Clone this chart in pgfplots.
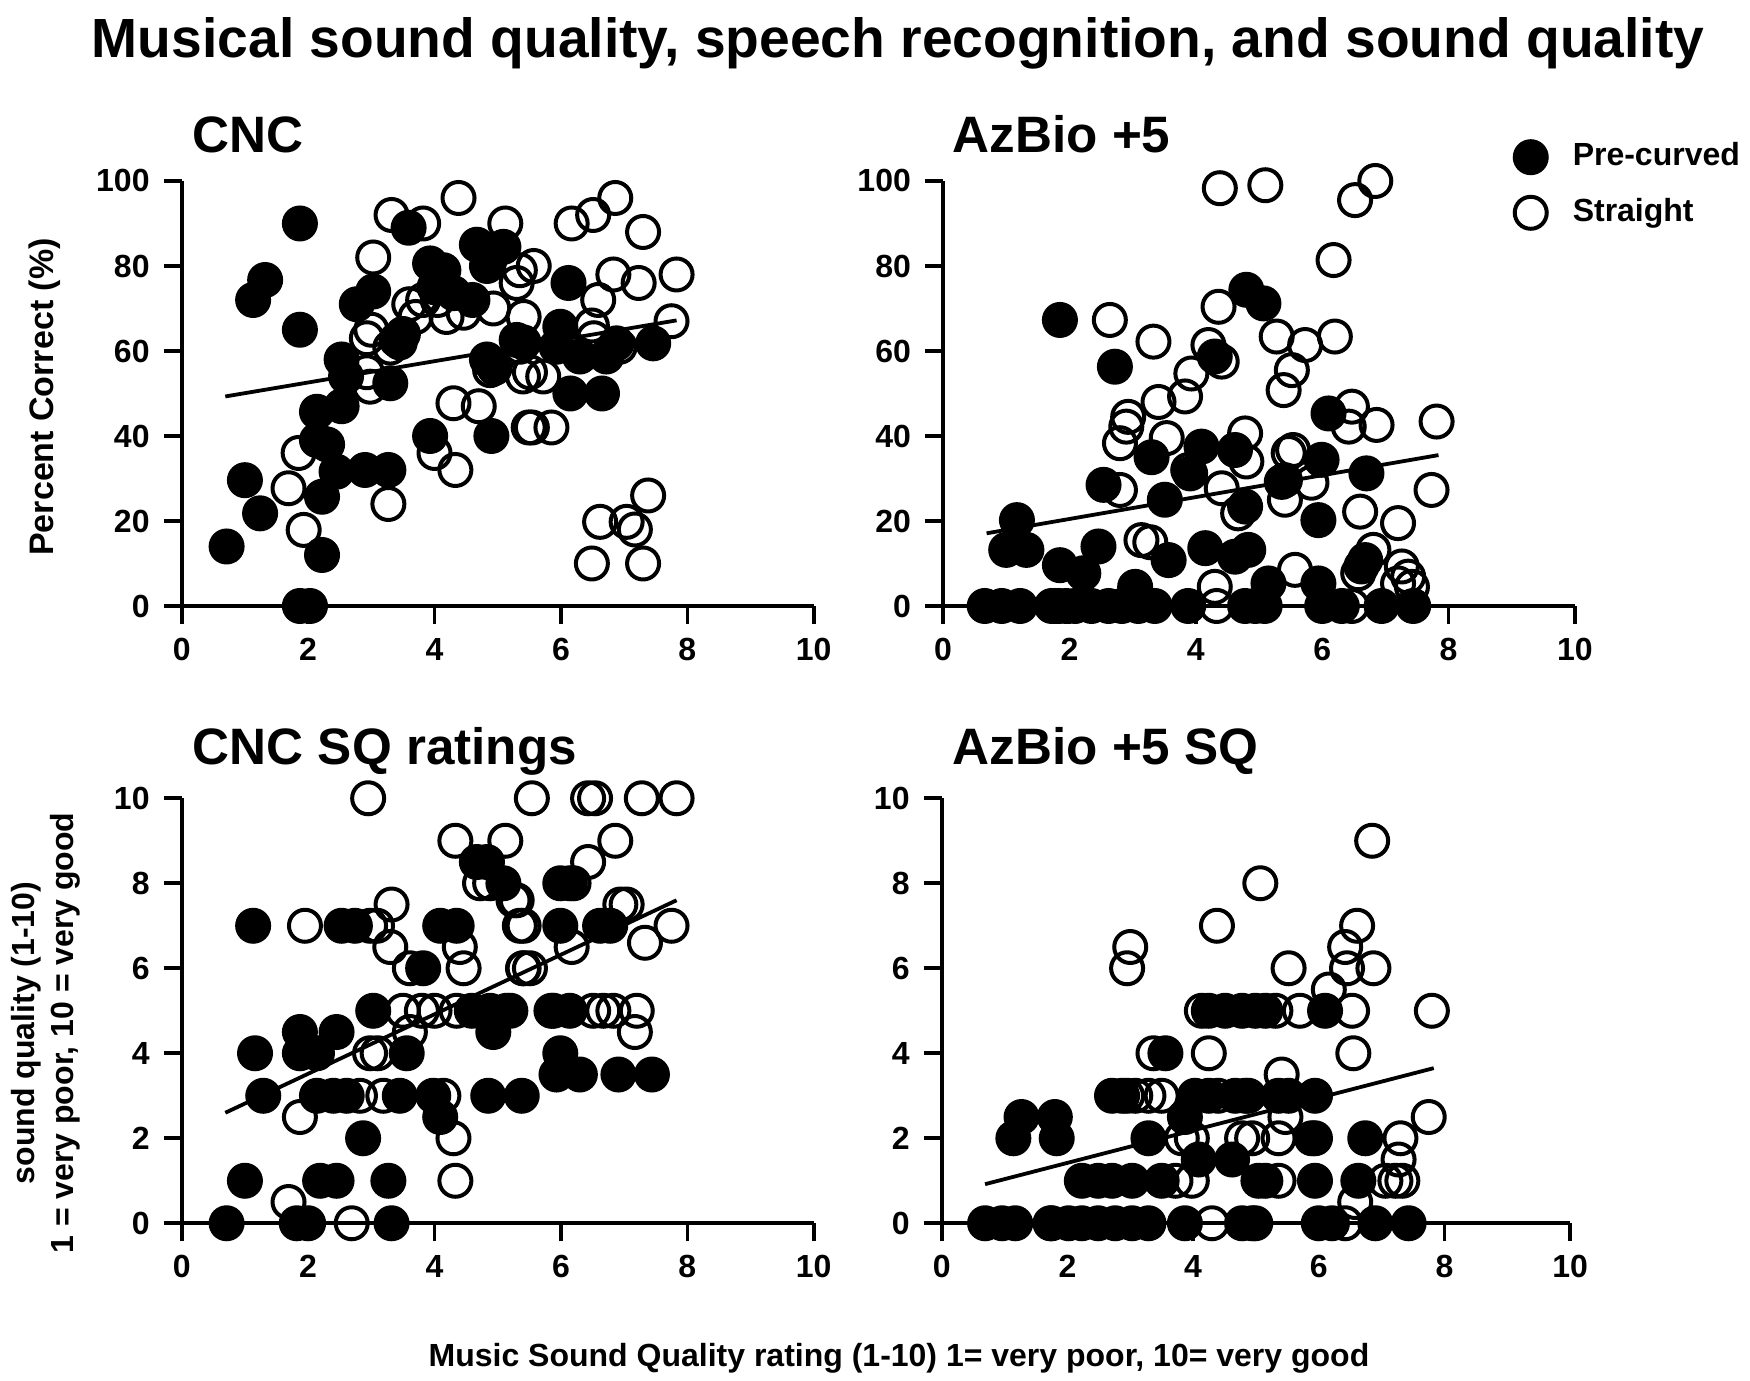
\documentclass[border=0pt]{standalone}
\usepackage{fontspec}
\setmainfont{Liberation Sans}
\usepackage{pgfplots}
\pgfplotsset{compat=1.18}
\pgfplotsset{
  myaxis/.style={
    anchor=south west,
    xmin=0, xmax=10, ymin=0,
    enlargelimits=false,
    axis lines=left,
    axis line style={-, line width=0.9pt},
    tick align=outside,
    major tick length=4.5pt,
    every tick/.style={black, line width=0.9pt},
    xtick={0,2,...,10},
    ticklabel style={font=\bfseries\fontsize{8}{9}\selectfont},
    /pgf/number format/assume math mode=true,
    clip=false,
  },
  filled/.style={only marks, mark=*, mark size=4pt, mark options={draw=black, fill=black, line width=1pt}},
  hollow/.style={only marks, mark=o, mark size=4pt, mark options={draw=black, line width=1pt}},
  fitline/.style={black, line width=0.95pt, no markers, forget plot},
}
\begin{document}
\begin{tikzpicture}
\useasboundingbox (0pt,0pt) rectangle (437.5pt,345.25pt);
\node[anchor=base, inner sep=0pt, font=\bfseries\fontsize{13.8}{16}\selectfont] at (224.5pt,330.75pt) {Musical sound quality, speech recognition, and sound quality};
\node[anchor=base west, inner sep=0pt, font=\bfseries\fontsize{12.8}{15}\selectfont] at (48pt,307pt) {CNC};
\node[anchor=base west, inner sep=0pt, font=\bfseries\fontsize{12.8}{15}\selectfont] at (238pt,307pt) {AzBio +5};
\node[anchor=base west, inner sep=0pt, font=\bfseries\fontsize{12.8}{15}\selectfont] at (48pt,154pt) {CNC SQ ratings};
\node[anchor=base west, inner sep=0pt, font=\bfseries\fontsize{12.8}{15}\selectfont] at (238pt,154pt) {AzBio +5 SQ};
\node[rotate=90, inner sep=0pt, font=\bfseries\fontsize{8.5}{9}\selectfont] at (11.25pt,246pt) {Percent Correct (\%)};
\node[rotate=90, inner sep=0pt, align=center, font=\bfseries\fontsize{8}{9.6}\selectfont] at (11.4pt,87pt) {sound quality (1-10)\\1 = very poor, 10 = very good};
\node[anchor=base, inner sep=0pt, font=\bfseries\fontsize{8}{9}\selectfont] at (224.75pt,3.5pt) {Music Sound Quality rating (1-10) 1= very poor, 10= very good};

% ---------------- CNC ----------------
\begin{axis}[myaxis, at={(45.43pt,193.75pt)}, x=15.8pt, y=1.0625pt, ymax=100, ytick={0,20,...,100}]
\addplot[filled] coordinates {
(1.87,90) (1.32,76.7) (1.13,72) (1.87,65) (0.71,14) (1.0,29.6) (1.24,21.8) (2.22,12)
(1.87,0) (2.03,0) (2.22,25.7) (2.14,45.7) (2.3,38) (2.14,39) (2.53,47) (2.53,58)
(2.45,31.6) (2.9,32) (3.27,32) (3.3,52.4) (2.77,71) (3.03,74) (3.5,64) (3.59,89)
(3.93,80.6) (4.14,79) (4.0,75) (4.3,73.6) (4.6,72) (4.67,85) (4.88,83) (5.09,84.5)
(4.83,80) (3.93,40) (4.9,40) (4.83,58) (5.3,62.6) (6.12,76) (5.99,65.7) (5.93,61)
(5.41,62) (6.3,58.7) (6.72,58.7) (6.88,61.8) (7.46,61.8) (6.15,50) (6.65,50)
(3.45,62) (2.6,54) (4.95,56)
};
\addplot[hollow] coordinates {
(4.38,96) (3.32,92) (3.82,90) (5.12,90) (3.03,82) (5.35,79) (5.3,76) (2.93,63)
(3.4,62.6) (3.6,71) (3.82,72) (4.19,68) (4.46,69) (4.93,70) (2.98,51.6) (2.93,55)
(4.3,47.7) (4.7,47) (4.0,36) (4.33,32) (3.27,24) (1.85,36) (1.69,27.7) (1.93,17.9)
(5.49,42) (4.88,55.5) (6.17,90) (6.51,92) (6.86,96) (7.3,88) (5.57,80) (6.83,78)
(7.23,76) (7.83,78) (6.59,72) (7.75,67) (6.49,66) (5.41,68) (5.35,61) (5.51,55)
(5.72,54) (5.4,54) (5.54,42) (5.85,42) (6.93,61) (6.52,63) (7.38,26) (6.62,19.8)
(7.04,19.8) (7.17,18) (6.49,10) (7.3,10) (3.3,60.8) (3.7,68) (4.05,72) (3.0,65)
};
\addplot[fitline] coordinates {(0.69,49.3) (7.83,67.2)};
\end{axis}

% ---------------- AzBio +5 ----------------
\begin{axis}[myaxis, at={(235.75pt,193.75pt)}, x=15.8pt, y=1.0625pt, ymax=100, ytick={0,20,...,100},
  legend style={draw=none, fill=none, at={(axis cs:9.034,111.1)}, anchor=north west, inner sep=0pt,
    font=\bfseries\fontsize{8}{9}\selectfont, row sep=2.6pt, column sep=4.5pt},
  legend cell align=left,
  legend image code/.code={\draw[#1] plot coordinates {(0pt,0pt)};}]
\addplot[filled] coordinates {
(1.85,67.3) (2.72,56.3) (1.17,20.2) (1.0,13.2) (1.32,13.2) (2.54,28.5) (1.85,9.6)
(2.22,7.7) (2.46,14) (3.04,4.5) (3.3,35) (3.51,25) (3.91,31.2) (4.09,37.5) (3.57,10.8)
(4.15,13.6) (4.62,36.7) (4.8,74.4) (5.07,71.2) (4.3,58.7) (4.78,23.4) (4.62,11.6)
(4.83,13.2) (6.1,45.3) (5.99,34.4) (6.7,31.2) (5.36,29.2) (5.94,20.2) (5.15,5.3)
(5.94,5.3) (6.62,9.3) (6.68,10.8)
(0.66,0) (0.93,0) (1.22,0) (1.77,0) (1.83,0) (2.09,0) (2.35,0) (2.62,0) (2.83,0)
(3.09,0) (3.35,0) (3.88,0) (4.78,0) (5.09,0) (4.94,0) (6.0,0) (6.31,0) (6.94,0) (7.44,0)
};
\addlegendentry{Pre-curved}
\addplot[hollow] coordinates {
(4.38,98.3) (5.1,99) (2.64,67.3) (3.33,62.2) (4.36,70.4) (4.2,61.4) (4.41,57.5)
(3.93,54.7) (3.83,49.3) (3.41,48) (2.93,44.5) (2.9,42.2) (2.8,38.3) (3.54,39.5)
(4.78,40.6) (4.8,34) (2.8,27.3) (4.41,27.7) (4.67,21.8) (3.14,15.5) (3.28,15)
(4.3,4.5) (4.33,0) (1.72,0) (1.95,0) (3.88,32) (5.28,63.4) (5.73,61.4) (6.2,63.4)
(5.52,55.5) (5.39,50.8) (6.52,95.5) (6.84,100) (6.18,81.4) (6.47,46.9) (6.42,42.2)
(6.86,42.6) (7.81,43.4) (7.73,27.3) (6.6,22.2) (7.2,19.5) (6.81,13.2) (7.26,9.3)
(7.36,6.9) (7.42,4.5) (7.2,5.3) (6.57,7.7) (5.57,8.5) (5.41,29.6) (5.47,36)
(5.54,36.7) (5.83,29) (5.41,25) (6.47,0)
};
\addlegendentry{Straight}
\addplot[fitline] coordinates {(0.69,17.1) (7.84,35.5)};
\end{axis}

% ---------------- CNC SQ ----------------
\begin{axis}[myaxis, at={(45.43pt,39.43pt)}, x=15.8pt, y=10.625pt, ymax=10, ytick={0,2,...,10}]
\addplot[filled] coordinates {
(1.13,7) (2.53,7) (2.74,7) (4.09,7) (4.35,7) (4.67,8.5) (4.83,8.5) (5.09,8) (3.82,6)
(3.03,5) (1.87,4.5) (2.45,4.5) (1.16,4) (1.87,4) (2.14,4) (3.56,4) (4.59,5) (4.93,4.5)
(5.14,5) (1.29,3) (2.14,3) (2.4,3) (2.61,3) (3.45,3) (3.98,3) (4.85,3) (5.38,3)
(4.09,2.5) (2.87,2) (1.0,1) (2.19,1) (2.45,1) (3.27,1) (0.71,0) (1.82,0) (2.0,0) (3.32,0)
(5.99,8) (6.14,8) (5.99,7) (6.62,7) (6.78,7) (4.88,5) (5.2,5) (5.88,5) (6.14,5)
(5.99,4) (5.93,3.5) (6.3,3.5) (6.91,3.5) (7.44,3.5)
};
\addplot[hollow] coordinates {
(2.95,10) (4.33,9) (5.12,9) (3.32,7.5) (1.95,7) (2.98,7) (3.09,7) (3.3,6.5) (4.72,8)
(4.88,8) (5.3,7.6) (5.35,7) (4.4,6.5) (4.46,6) (3.61,6) (5.4,6) (3.5,5) (3.8,5) (4.0,5)
(4.35,5) (3.61,4.5) (2.98,4) (3.1,4) (2.82,3) (3.19,3) (1.87,2.5) (4.3,2) (4.33,1)
(1.69,0.5) (2.69,0) (4.14,3)
(5.54,10) (6.43,10) (6.54,10) (7.28,10) (7.83,10) (6.86,9) (6.43,8.5) (6.2,8) (5.25,7.6)
(6.94,7.5) (7.04,7.5) (5.41,7) (7.75,7) (7.33,6.6) (6.17,6.5) (5.41,6) (5.51,6) (5.85,5)
(6.51,5) (6.67,5) (6.83,5) (7.2,5) (7.17,4.5)
};
\addplot[fitline] coordinates {(0.69,2.6) (7.83,7.6)};
\end{axis}

% ---------------- AzBio +5 SQ ----------------
\begin{axis}[myaxis, at={(235.43pt,39.43pt)}, x=15.71pt, y=10.625pt, ymax=10, ytick={0,2,...,10}]
\addplot[filled] coordinates {
(1.27,2.5) (1.8,2.5) (1.14,2) (1.83,2) (3.29,2) (2.71,3) (2.87,3) (4.03,3) (4.25,3)
(4.67,3) (4.88,3) (3.56,4) (4.25,5) (4.51,5) (4.78,5) (4.99,5) (3.87,2.5) (4.09,1.5)
(4.62,1.5) (2.23,1) (2.49,1) (2.71,1) (3.03,1) (3.5,1) (5.04,1)
(0.69,0) (0.96,0) (1.17,0) (1.75,0) (2.02,0) (2.23,0) (2.49,0) (2.76,0) (3.03,0)
(3.29,0) (3.87,0) (4.78,0) (4.99,0)
(5.15,5) (6.1,5) (4.83,3) (5.36,3) (5.52,3) (5.94,3) (5.94,2) (6.74,2) (5.15,1)
(5.94,1) (6.63,1) (4.94,0) (6.0,0) (6.21,0) (6.9,0) (7.43,0)
};
\addplot[hollow] coordinates {
(5.07,8) (4.38,7) (3.0,6.5) (2.95,6) (4.14,5) (3.37,4) (4.25,4) (2.95,3) (3.08,3)
(3.29,3) (3.5,3) (4.4,3) (3.82,2) (3.98,2) (4.78,2) (4.94,2) (3.98,1) (3.72,1)
(4.3,0) (1.73,0)
(6.85,9) (6.61,7) (6.42,6.5) (5.52,6) (6.45,6) (6.87,6) (6.16,5.5) (5.31,5) (5.7,5)
(6.53,5) (7.8,5) (6.55,4) (5.41,3.5) (7.75,2.5) (5.36,2) (5.89,2) (5.47,2.5) (7.3,2)
(7.27,1.5) (5.36,1) (7.06,1) (7.22,1) (7.33,1) (6.58,0.5) (6.42,0)
};
\addplot[fitline] coordinates {(0.69,0.92) (7.83,3.65)};
\end{axis}
\end{tikzpicture}
\end{document}
